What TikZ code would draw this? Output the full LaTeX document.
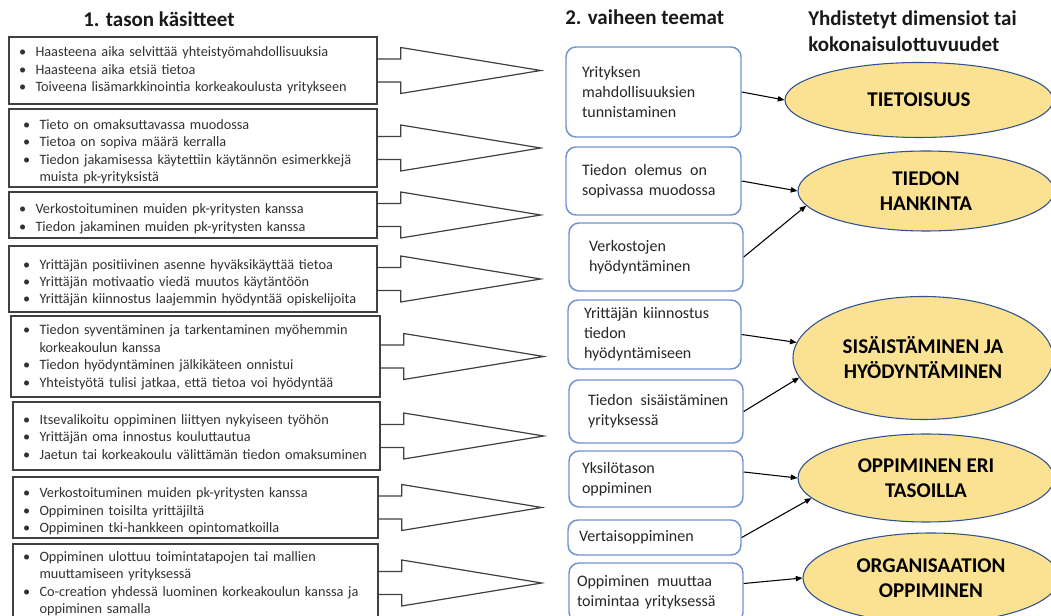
\documentclass[tikz,border=0pt]{standalone}
\usepackage{fontspec}
\setmainfont{Carlito}
\usetikzlibrary{shapes.geometric,arrows.meta,calc}
\definecolor{lline}{RGB}{64,64,64}
\definecolor{ltext}{RGB}{50,50,50}
\definecolor{mline}{RGB}{112,146,208}
\definecolor{efill}{RGB}{251,225,146}
\definecolor{eline}{RGB}{47,82,143}
\newcommand{\bl}[1]{\par\hangindent=12.4pt\hangafter=1\noindent\makebox[12.4pt][l]{\textbullet}#1\par}
\newcommand{\lift}[1]{\par\kern#1}
\tikzset{
  lbox/.style={draw=lline, line width=1.1pt, fill=white, rectangle, align=left, inner ysep=0pt,
    text=ltext, font=\fontsize{10.7pt}{13.1pt}\selectfont},
  blk/.style={draw=lline, line width=0.9pt, line join=miter},
  mbox/.style={draw=mline, line width=1.1pt, rounded corners=7.5pt, rectangle, align=left,
    inner ysep=0pt, text=black!85, font=\fontsize{12pt}{15pt}\selectfont},
  ell/.style={ellipse, draw=eline, line width=0.8pt, fill=efill, inner sep=0pt, align=center,
    font=\fontsize{15.75pt}{18.75pt}\selectfont\bfseries},
  ttl/.style={inner sep=0pt, font=\fontsize{15.75pt}{19.5pt}\selectfont\bfseries, text=black!90},
  conn/.style={draw=black, line width=0.8pt, -{Triangle[length=5pt,width=4pt]}}
}
\begin{document}
\begin{tikzpicture}[x=0.75pt,y=-0.75pt]
\useasboundingbox (0,0) rectangle (1051,616);
\fill[white] (0,0) rectangle (1051,616);
\clip (0,0) rectangle (1051,616);

% titles
\node[ttl, anchor=west] (h1) at (83,19) {1. tason käsitteet};
\node[ttl, anchor=west] (h2) at (565,17) {2. vaiheen teemat};
\node[ttl, anchor=west, align=left] (h3) at (808,31) {Yhdistetyt dimensiot tai\\kokonaisulottuvuudet};

% left boxes
\node[lbox, minimum width=276pt, minimum height=50.25pt, inner xsep=7.5pt, text width=261pt] (b1) at (193,70.5)
 {\bl{Haasteena aika selvittää yhteistyömahdollisuuksia}\bl{Haasteena aika etsiä tietoa}\bl{Toiveena lisämarkkinointia korkeakoulusta yritykseen}\lift{6pt}};
\node[lbox, minimum width=276pt, minimum height=58.5pt, inner xsep=10.5pt, text width=255pt] (b2) at (193,148)
 {\bl{Tieto on omaksuttavassa muodossa}\bl{Tietoa on sopiva määrä kerralla}\bl{Tiedon jakamisessa käytettiin käytännön esimerkkejä\break muista pk-yrityksistä}};
\node[lbox, minimum width=276pt, minimum height=34.5pt, inner xsep=7.5pt, text width=261pt] (b3) at (193,215)
 {\bl{Verkostoituminen muiden pk-yritysten kanssa}\bl{Tiedon jakaminen muiden pk-yritysten kanssa}};
\node[lbox, minimum width=276pt, minimum height=49.5pt, inner xsep=10.5pt, text width=255pt] (b4) at (193,279)
 {\bl{Yrittäjän positiivinen asenne hyväksikäyttää tietoa}\bl{Yrittäjän motivaatio viedä muutos käytäntöön}\bl{Yrittäjän kiinnostus laajemmin hyödyntää opiskelijoita}};
\node[lbox, minimum width=276.75pt, minimum height=60.75pt, inner xsep=9pt, text width=258.75pt] (b5) at (195.5,356.5)
 {\bl{Tiedon syventäminen ja tarkentaminen myöhemmin\break korkeakoulun kanssa}\bl{Tiedon hyödyntäminen jälkikäteen onnistui}\bl{Yhteistyötä tulisi jatkaa, että tietoa voi hyödyntää}\lift{4.5pt}};
\node[lbox, minimum width=275.25pt, minimum height=51pt, inner xsep=7.5pt, text width=260.25pt] (b6) at (196.5,436)
 {\bl{Itsevalikoitu oppiminen liittyen nykyiseen työhön}\bl{Yrittäjän oma innostus kouluttautua}\bl{Jaetun tai korkeakoulu välittämän tiedon omaksuminen}\lift{4.5pt}};
\node[lbox, minimum width=273.75pt, minimum height=45.75pt, inner xsep=7.5pt, text width=258.75pt] (b7) at (195.5,507.5)
 {\bl{Verkostoituminen muiden pk-yritysten kanssa}\bl{Oppiminen toisilta yrittäjiltä}\bl{Oppiminen tki-hankkeen opintomatkoilla}};
\node[lbox, minimum width=273.75pt, minimum height=58.5pt, inner xsep=7.5pt, text width=258.75pt] (b8) at (195.5,583)
 {\bl{Oppiminen ulottuu toimintatapojen tai mallien\break muuttamiseen yrityksessä}\bl{Co-creation yhdessä luominen korkeakoulun kanssa ja\break oppiminen samalla}\lift{4.5pt}};

% block arrows
\foreach \b in {b1,b2,b3,b4,b5,b6,b7,b8}{
  \draw[blk] ($(\b.east)+(0,-11.5)$) -- ++(23,0) -- ++(0,-11.5) -- ++(140,23) -- ++(-140,23) -- ++(0,-11.5) -- ++(-23,0);
}

% middle boxes
\node[mbox, minimum width=131.25pt, minimum height=67.5pt, inner xsep=12pt, text width=107.25pt] (m1) at (653.5,92)
 {Yrityksen\\mahdollisuuksien\\tunnistaminen};
\node[mbox, minimum width=131.25pt, minimum height=51pt, inner xsep=12pt, text width=107.25pt] (m2) at (653.5,181)
 {Tiedon\enspace olemus\enspace on\\sopivassa muodossa};
\node[mbox, minimum width=130.5pt, minimum height=51pt, inner xsep=15pt, text width=100.5pt] (m3) at (656,257)
 {Verkostojen\\hyödyntäminen};
\node[mbox, minimum width=129.75pt, minimum height=51.75pt, inner xsep=12pt, text width=105.75pt] (m4) at (654.5,334.5)
 {Yrittäjän kiinnostus\\tiedon\\hyödyntämiseen};
\node[mbox, minimum width=130.5pt, minimum height=47.25pt, inner xsep=14.25pt, text width=102pt] (m5) at (656,411.5)
 {Tiedon\enspace sisäistäminen\\yrityksessä};
\node[mbox, minimum width=130.5pt, minimum height=42pt, inner xsep=9.75pt, text width=111pt] (m6) at (656,479)
 {Yksilötason\\oppiminen};
\node[mbox, minimum width=129.75pt, minimum height=26.25pt, inner xsep=8.25pt, text width=113.25pt] (m7) at (654.5,537.5)
 {Vertaisoppiminen};
\node[mbox, minimum width=130.5pt, minimum height=44.25pt, inner xsep=6pt, text width=118.5pt] (m8) at (656,592.5)
 {Oppiminen\enspace muuttaa\\toimintaa yrityksessä};

% ellipses
\node[ell, minimum width=201pt, minimum height=56.25pt] (e1) at (919,100) {TIETOISUUS};
\node[ell, minimum width=192pt, minimum height=60pt] (e2) at (926,191) {TIEDON\\HANKINTA};
\node[ell, minimum width=195pt, minimum height=92.25pt] (e3) at (923,358) {SISÄISTÄMINEN JA\\HYÖDYNTÄMINEN};
\node[ell, minimum width=192pt, minimum height=66pt] (e4) at (926,478) {OPPIMINEN ERI\\TASOILLA};
\node[ell, minimum width=192pt, minimum height=67.5pt] (e5) at (931,578) {ORGANISAATION\\OPPIMINEN};

% connectors
\draw[conn] (m1.east) -- (e1.west);
\draw[conn] (m2.east) -- (e2.west);
\draw[conn] (m3.east) -- (e2.187);
\draw[conn] (m4.east) -- (e3.173);
\draw[conn] (m5.east) -- (e3.189);
\draw[conn] ($(m6.east)+(0,-7)$) -- (e4.west);
\draw[conn] (m7.east) -- (e4.190);
\draw[conn] ($(m8.east)+(0,-9)$) -- (e5.west);
\end{tikzpicture}
\end{document}
